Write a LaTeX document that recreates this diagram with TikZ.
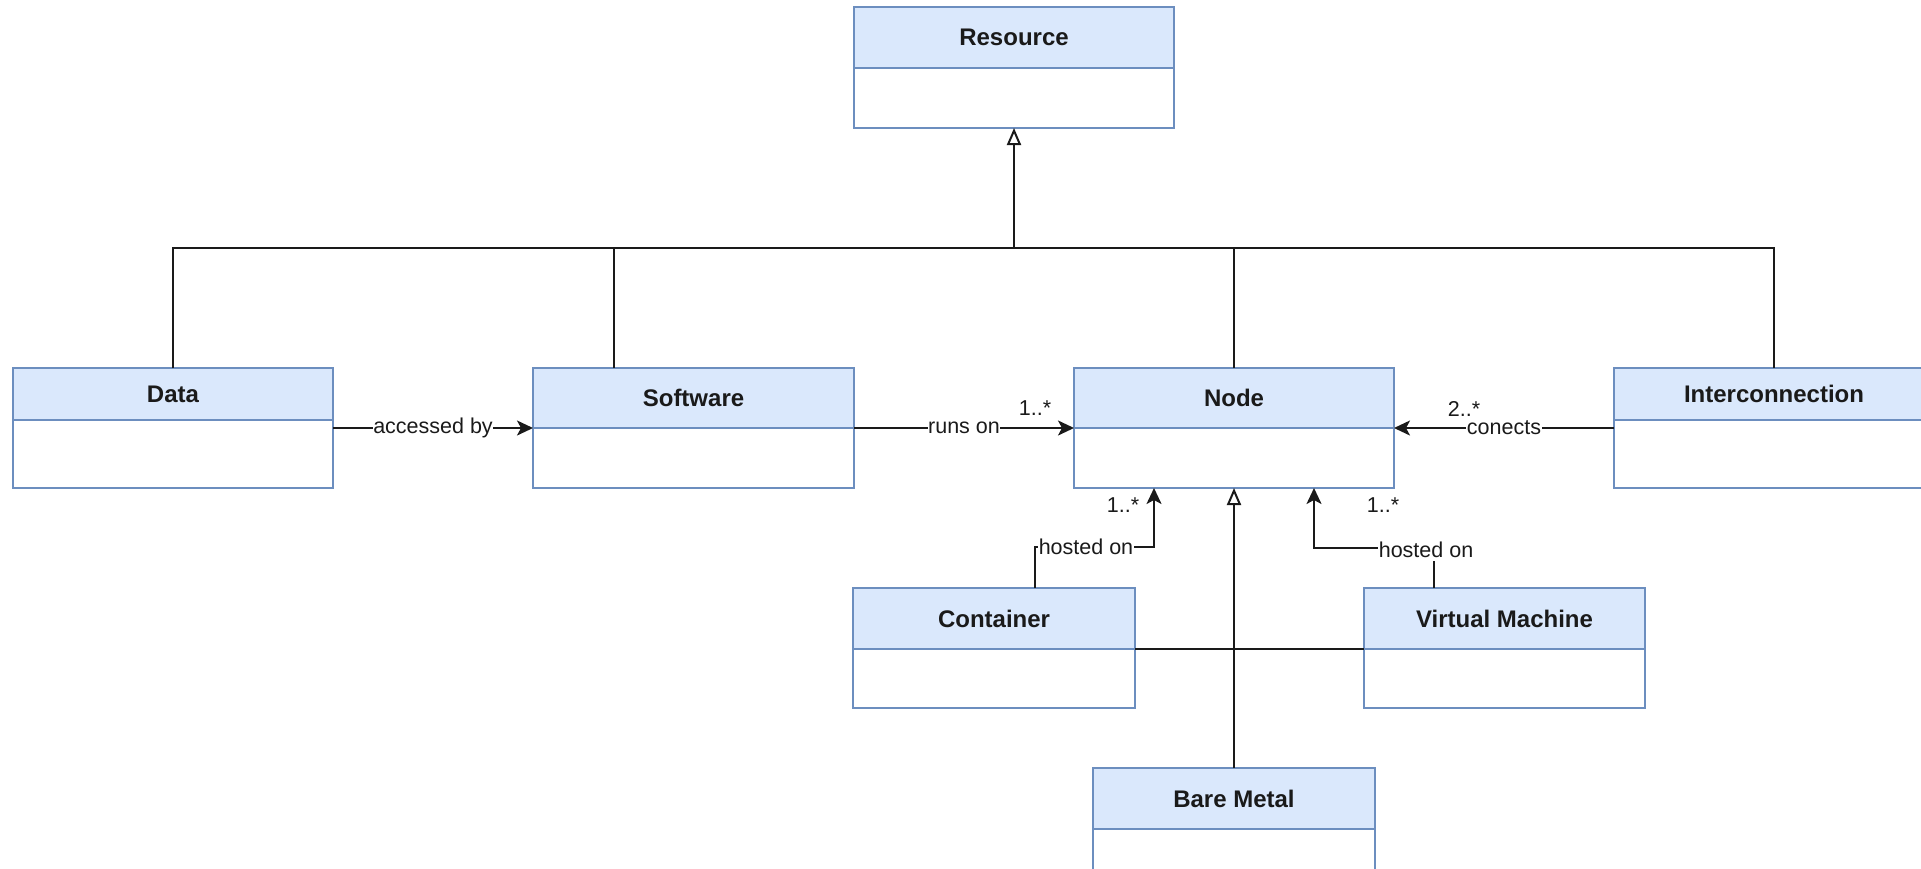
\documentclass[tikz,border=0pt]{standalone}
\usepackage{fontspec}
\setmainfont{Liberation Sans}
\usetikzlibrary{arrows.meta}
\definecolor{hdrfill}{HTML}{DAE8FC}
\definecolor{hdrline}{HTML}{6C8EBF}
\definecolor{ink}{HTML}{1A1A1A}
\tikzset{
  hdr/.style={draw=hdrline, fill=hdrfill, line width=1.8pt, anchor=north west,
    inner sep=0pt, outer sep=0pt, text=ink,
    font=\fontsize{24}{28}\selectfont\bfseries},
  bdy/.style={draw=hdrline, fill=white, line width=1.8pt, anchor=north west,
    inner sep=0pt, outer sep=0pt},
  conn/.style={line width=2pt, draw=ink},
  assoc/.style={conn, -{Stealth[length=16pt,width=15pt,inset=4pt]}},
  gen/.style={conn, -{Triangle[open,length=17pt,width=14pt,line width=2pt]}},
  lbl/.style={fill=white, inner sep=0.5pt, text=ink,
    font=\fontsize{21.5}{24}\selectfont},
  mult/.style={inner sep=0pt, text=ink, font=\fontsize{21.5}{24}\selectfont},
}
\begin{document}
\begin{tikzpicture}[x=1pt,y=-1pt]
\useasboundingbox (0,0) rectangle (1921,868);
\fill[white] (0,0) rectangle (1921,868);

% classes
\node[bdy, minimum width=320pt, minimum height=60pt] (resb) at (854,68) {};
\node[hdr, minimum width=320pt, minimum height=61pt] (res) at (854,7) {Resource};

\node[bdy, minimum width=320pt, minimum height=68pt] (datab) at (13,420) {};
\node[hdr, minimum width=320pt, minimum height=52pt] (data) at (13,368) {Data};

\node[bdy, minimum width=321pt, minimum height=60pt] (swb) at (533,428) {};
\node[hdr, minimum width=321pt, minimum height=60pt] (sw) at (533,368) {Software};

\node[bdy, minimum width=320pt, minimum height=60pt] (ndb) at (1074,428) {};
\node[hdr, minimum width=320pt, minimum height=60pt] (nd) at (1074,368) {Node};

\node[bdy, minimum width=320pt, minimum height=68pt] (icb) at (1614,420) {};
\node[hdr, minimum width=320pt, minimum height=52pt] (ic) at (1614,368) {Interconnection};

\node[bdy, minimum width=282pt, minimum height=59pt] (contb) at (853,649) {};
\node[hdr, minimum width=282pt, minimum height=61pt] (cont) at (853,588) {Container};

\node[bdy, minimum width=281pt, minimum height=59pt] (vmb) at (1364,649) {};
\node[hdr, minimum width=281pt, minimum height=61pt] (vm) at (1364,588) {Virtual Machine};

\node[bdy, minimum width=282pt, minimum height=60pt] (bmb) at (1093,829) {};
\node[hdr, minimum width=282pt, minimum height=61pt] (bm) at (1093,768) {Bare Metal};

% generalization tree to Resource
\coordinate (bus) at (1014,248);
\coordinate (swtop) at (614,368);
\draw[conn] (data.north) |- (bus);
\draw[conn] (swtop) |- (bus);
\draw[conn] (nd.north) |- (bus);
\draw[conn] (ic.north) |- (bus);
\draw[gen] (bus) -- (resb.south);

% generalization to Node
\draw[conn] (cont.south east) -- (vm.south west);
\draw[gen] (bm.north) -- (bm.north |- ndb.south);

% associations
\draw[assoc] (datab.east |- swb.north west) -- (swb.north west);
\node[lbl] (l1) at (433,428) {accessed by};

\draw[assoc] (swb.north east) -- (ndb.north west);
\node[lbl] (l2) at (964,428) {runs on};
\node[mult] (m1) at (1035,408) {1..*};

\draw[assoc] (ndb.north east -| icb.west) -- (ndb.north east);
\node[lbl] (l3) at (1504,428) {conects};
\node[mult] (m2) at (1464,409) {2..*};

\coordinate (cbend) at (1035,547);
\coordinate (ctgt) at (1154,488);
\draw[assoc] (cont.north -| cbend) -- (cbend) -| (ctgt);
\node[lbl] (l4) at (1086,547) {hosted on};
\node[mult] (m3) at (1123,505) {1..*};

\coordinate (vbend) at (1434,548);
\coordinate (vtgt) at (1314,488);
\draw[assoc] (vm.north -| vbend) -- (vbend) -| (vtgt);
\node[lbl, inner ysep=3pt] (l5) at (1426,550) {hosted on};
\node[mult] (m4) at (1383,505) {1..*};
\end{tikzpicture}
\end{document}
